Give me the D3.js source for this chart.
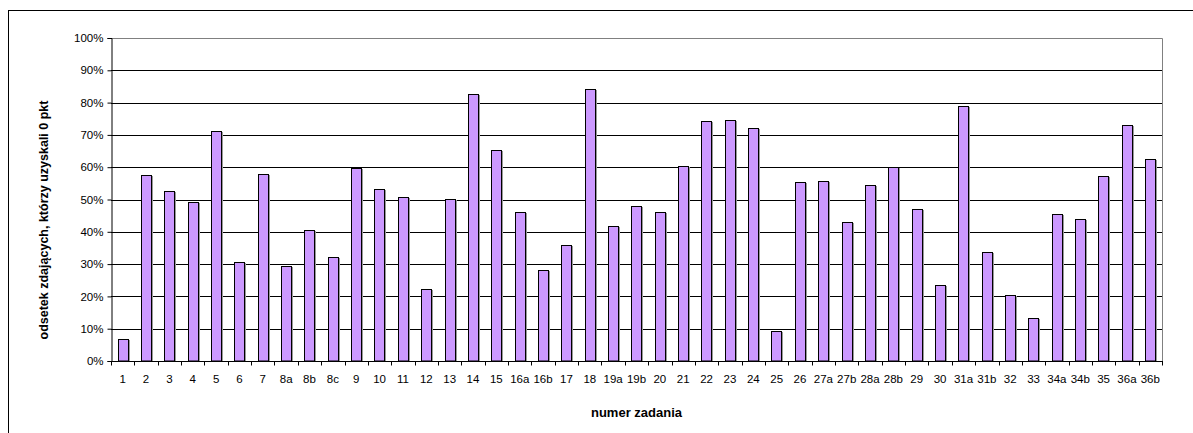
<!DOCTYPE html>
<html><head><meta charset="utf-8">
<script src="https://cdn.jsdelivr.net/npm/d3@7"></script>
<style>body{margin:0;background:#fff}svg{display:block}text{font-family:Arial,"Liberation Sans",sans-serif}</style>
</head><body><svg id="c" width="1193" height="433"></svg>
<script>
const categories = ["1","2","3","4","5","6","7","8a","8b","8c","9","10","11","12","13","14","15","16a","16b","17","18","19a","19b","20","21","22","23","24","25","26","27a","27b","28a","28b","29","30","31a","31b","32","33","34a","34b","35","36a","36b"];
const values = [6.9,57.5,52.5,49.2,71.2,30.7,57.8,29.3,40.6,32.3,59.7,53.4,50.7,22.4,50.1,82.6,65.4,46.1,28.1,35.8,84.3,41.8,48.1,46.0,60.3,74.2,74.6,72.2,9.4,55.3,55.6,43.0,54.4,60.1,47.2,23.6,79.0,33.8,20.4,13.3,45.5,44.1,57.3,73.0,62.4];
const yTicks = [0,10,20,30,40,50,60,70,80,90,100];
const yTitle = "odsetek zdających, którzy uzyskali 0 pkt";
const xTitle = "numer zadania";

const svg = d3.select("#c");
const L = 111, R = 1162, T = 38, B = 361;
// outer frame
svg.append("rect").attr("x",8.5).attr("y",10.5).attr("width",1300).attr("height",600)
  .attr("fill","none").attr("stroke","#000").attr("stroke-width",1);

const x = d3.scaleBand().domain(categories).range([L,R]).paddingInner(0.56).paddingOuter(0.28);
const y = d3.scaleLinear().domain([0,100]).range([B,T]);

// gridlines
svg.append("g").selectAll("line").data(yTicks.filter(d=>d>0 && d<100)).join("line")
  .attr("x1",L).attr("x2",R).attr("y1",d=>Math.round(y(d))+0.5).attr("y2",d=>Math.round(y(d))+0.5)
  .attr("stroke","#000").attr("stroke-width",1);
// plot border top/right
svg.append("path").attr("d",`M${L},${T+0.5}H${R+0.5}V${B}`).attr("fill","none").attr("stroke","#808080");

// bar shadows (subtle gray right edge)
svg.append("g").selectAll("line").data(values).join("line")
  .attr("x1",(d,i)=>Math.round(x(categories[i]))+Math.round(x.bandwidth())+1.5)
  .attr("x2",(d,i)=>Math.round(x(categories[i]))+Math.round(x.bandwidth())+1.5)
  .attr("y1",d=>Math.round(y(d))+1).attr("y2",B)
  .attr("stroke","#9a9a9a").attr("stroke-width",1);

// bars
svg.append("g").selectAll("rect").data(values).join("rect")
  .attr("x",(d,i)=>Math.round(x(categories[i]))+0.5)
  .attr("y",d=>Math.round(y(d))+0.5)
  .attr("width",Math.round(x.bandwidth()))
  .attr("height",d=>B-Math.round(y(d))-0.5)
  .attr("fill","#CC99FF").attr("stroke","#000").attr("stroke-width",1);

// y axis
const yAxis = d3.axisLeft(y).tickValues(yTicks).tickFormat(d=>d+"%").tickSize(4).tickPadding(4);
const gy = svg.append("g").attr("transform",`translate(${L+0.5},0)`).call(yAxis);
gy.select(".domain").attr("stroke","#000");
gy.selectAll(".tick line").attr("stroke","#000");
gy.selectAll("text").attr("font-size","11.5px").attr("fill","#000").attr("font-family","Arial, 'Liberation Sans', sans-serif");

// x axis
const step = x.step();
const gx = svg.append("g").attr("transform",`translate(0,${B+0.5})`);
gx.append("line").attr("x1",L).attr("x2",R+1).attr("stroke","#000");
const bounds = d3.range(categories.length+1).map(i => L + i*step);
gx.selectAll("line.t").data(bounds).join("line").attr("class","t")
  .attr("x1",d=>Math.round(d)+0.5).attr("x2",d=>Math.round(d)+0.5).attr("y1",0).attr("y2",4).attr("stroke","#000");
gx.selectAll("text").data(categories).join("text")
  .attr("x",d=>x(d)+x.bandwidth()/2).attr("y",21)
  .attr("text-anchor","middle").attr("font-size","11.5px").attr("fill","#000").text(d=>d);

// titles
svg.append("text").attr("x",(L+R)/2).attr("y",417).attr("text-anchor","middle")
  .attr("font-size","13px").attr("font-weight","bold").text(xTitle);
svg.append("text").attr("transform","translate(48,220) rotate(-90)").attr("text-anchor","middle")
  .attr("font-size","12.5px").attr("font-weight","bold").text(yTitle);
</script></body></html>
